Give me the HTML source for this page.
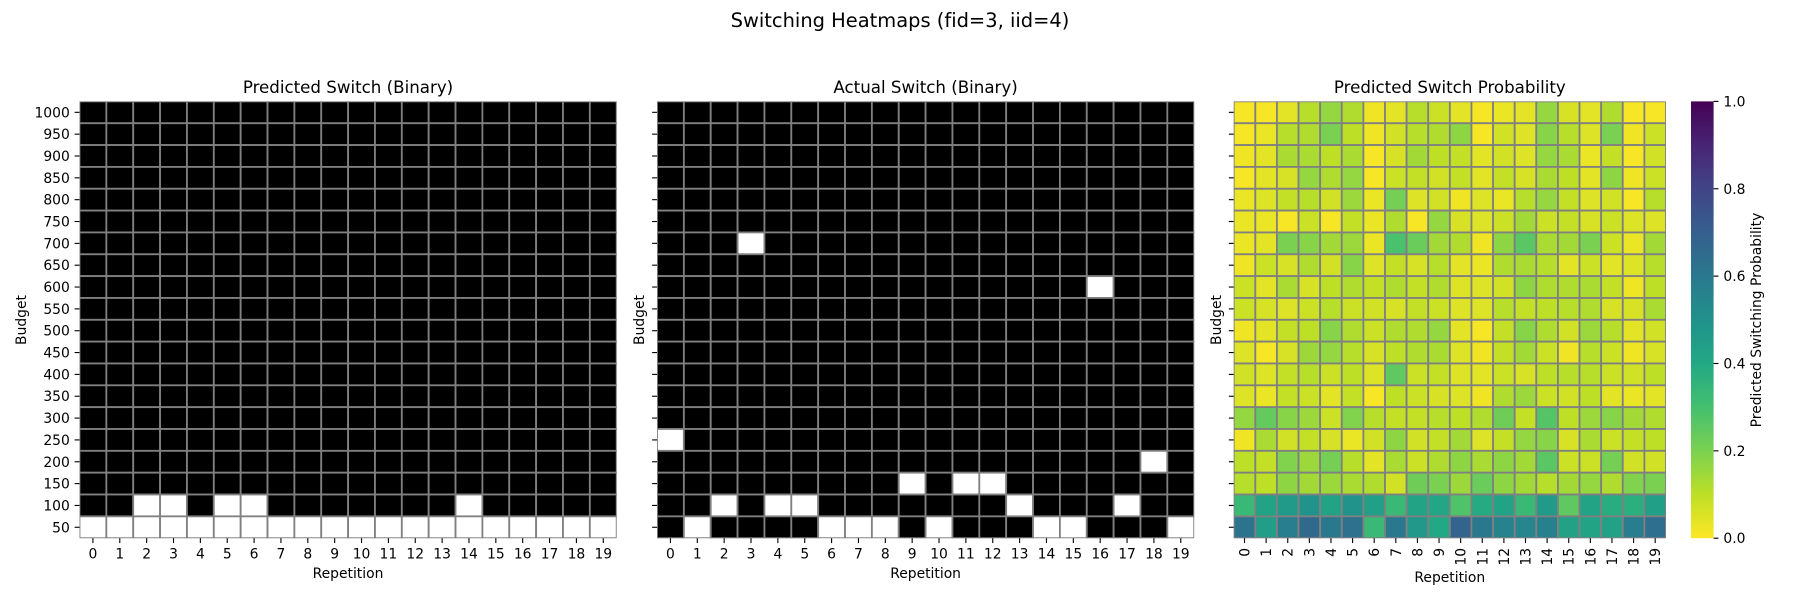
<!DOCTYPE html>
<html lang="en">
<head>
<meta charset="utf-8">
<title>Switching Heatmaps</title>
<style>
html,body{margin:0;padding:0;background:#fff;}
svg{display:block;}
text{font-family:"DejaVu Sans","Liberation Sans",sans-serif;fill:#000;font-variant-ligatures:none;}
</style>
</head>
<body>
<svg id="chart" xmlns="http://www.w3.org/2000/svg" width="1800" height="600" viewBox="0 0 1800 600">
  <defs>
    <linearGradient id="cbar-gradient" x1="0" y1="1" x2="0" y2="0">
      <stop offset="0" stop-color="#fde725"/>
      <stop offset="0.1" stop-color="#bddf26"/>
      <stop offset="0.2" stop-color="#7ad151"/>
      <stop offset="0.3" stop-color="#44bf70"/>
      <stop offset="0.4" stop-color="#22a884"/>
      <stop offset="0.5" stop-color="#21918c"/>
      <stop offset="0.6" stop-color="#2a788e"/>
      <stop offset="0.7" stop-color="#355f8d"/>
      <stop offset="0.8" stop-color="#414487"/>
      <stop offset="0.9" stop-color="#482475"/>
      <stop offset="1" stop-color="#440154"/>
    </linearGradient>
    <clipPath id="clip-a"><rect x="79.5" y="101.4" width="537.2" height="436.8"/></clipPath>
    <clipPath id="clip-b"><rect x="657" y="101.4" width="537.2" height="436.8"/></clipPath>
    <clipPath id="clip-c"><rect x="1233.7" y="101.4" width="432.3" height="436.8"/></clipPath>
  </defs>
  <text x="900" y="27" text-anchor="middle" font-size="19.44">Switching Heatmaps (fid=3, iid=4)</text>
  <text x="348" y="93" text-anchor="middle" font-size="16.67">Predicted Switch (Binary)</text>
  <text x="925.6" y="93" text-anchor="middle" font-size="16.67">Actual Switch (Binary)</text>
  <text x="1449.8" y="93" text-anchor="middle" font-size="16.67">Predicted Switch Probability</text>
  <text x="348" y="578" text-anchor="middle" font-size="13.89">Repetition</text>
  <text x="925.6" y="578" text-anchor="middle" font-size="13.89">Repetition</text>
  <text x="1449.8" y="582" text-anchor="middle" font-size="13.89">Repetition</text>
  <text transform="translate(26,320) rotate(-90)" text-anchor="middle" font-size="13.89">Budget</text>
  <text transform="translate(644,320) rotate(-90)" text-anchor="middle" font-size="13.89">Budget</text>
  <text transform="translate(1221,320) rotate(-90)" text-anchor="middle" font-size="13.89">Budget</text>
  <text transform="translate(1761,320) rotate(-90)" text-anchor="middle" font-size="13.89">Predicted Switching Probability</text>
  <rect x="1691" y="101.4" width="22.6" height="436.8" fill="url(#cbar-gradient)"/>
  <g id="plots"></g>
</svg>
<script>
const budgets = [1000,950,900,850,800,750,700,650,600,550,500,450,400,350,300,250,200,150,100,50];
const repetitions = [0,1,2,3,4,5,6,7,8,9,10,11,12,13,14,15,16,17,18,19];
const colorbarTicks = [0,0.2,0.4,0.6,0.8,1];

const predictedSwitch = [
[0,0,0,0,0,0,0,0,0,0,0,0,0,0,0,0,0,0,0,0],
[0,0,0,0,0,0,0,0,0,0,0,0,0,0,0,0,0,0,0,0],
[0,0,0,0,0,0,0,0,0,0,0,0,0,0,0,0,0,0,0,0],
[0,0,0,0,0,0,0,0,0,0,0,0,0,0,0,0,0,0,0,0],
[0,0,0,0,0,0,0,0,0,0,0,0,0,0,0,0,0,0,0,0],
[0,0,0,0,0,0,0,0,0,0,0,0,0,0,0,0,0,0,0,0],
[0,0,0,0,0,0,0,0,0,0,0,0,0,0,0,0,0,0,0,0],
[0,0,0,0,0,0,0,0,0,0,0,0,0,0,0,0,0,0,0,0],
[0,0,0,0,0,0,0,0,0,0,0,0,0,0,0,0,0,0,0,0],
[0,0,0,0,0,0,0,0,0,0,0,0,0,0,0,0,0,0,0,0],
[0,0,0,0,0,0,0,0,0,0,0,0,0,0,0,0,0,0,0,0],
[0,0,0,0,0,0,0,0,0,0,0,0,0,0,0,0,0,0,0,0],
[0,0,0,0,0,0,0,0,0,0,0,0,0,0,0,0,0,0,0,0],
[0,0,0,0,0,0,0,0,0,0,0,0,0,0,0,0,0,0,0,0],
[0,0,0,0,0,0,0,0,0,0,0,0,0,0,0,0,0,0,0,0],
[0,0,0,0,0,0,0,0,0,0,0,0,0,0,0,0,0,0,0,0],
[0,0,0,0,0,0,0,0,0,0,0,0,0,0,0,0,0,0,0,0],
[0,0,0,0,0,0,0,0,0,0,0,0,0,0,0,0,0,0,0,0],
[0,0,1,1,0,1,1,0,0,0,0,0,0,0,1,0,0,0,0,0],
[1,1,1,1,1,1,1,1,1,1,1,1,1,1,1,1,1,1,1,1]
];

const actualSwitch = [
[0,0,0,0,0,0,0,0,0,0,0,0,0,0,0,0,0,0,0,0],
[0,0,0,0,0,0,0,0,0,0,0,0,0,0,0,0,0,0,0,0],
[0,0,0,0,0,0,0,0,0,0,0,0,0,0,0,0,0,0,0,0],
[0,0,0,0,0,0,0,0,0,0,0,0,0,0,0,0,0,0,0,0],
[0,0,0,0,0,0,0,0,0,0,0,0,0,0,0,0,0,0,0,0],
[0,0,0,0,0,0,0,0,0,0,0,0,0,0,0,0,0,0,0,0],
[0,0,0,1,0,0,0,0,0,0,0,0,0,0,0,0,0,0,0,0],
[0,0,0,0,0,0,0,0,0,0,0,0,0,0,0,0,0,0,0,0],
[0,0,0,0,0,0,0,0,0,0,0,0,0,0,0,0,1,0,0,0],
[0,0,0,0,0,0,0,0,0,0,0,0,0,0,0,0,0,0,0,0],
[0,0,0,0,0,0,0,0,0,0,0,0,0,0,0,0,0,0,0,0],
[0,0,0,0,0,0,0,0,0,0,0,0,0,0,0,0,0,0,0,0],
[0,0,0,0,0,0,0,0,0,0,0,0,0,0,0,0,0,0,0,0],
[0,0,0,0,0,0,0,0,0,0,0,0,0,0,0,0,0,0,0,0],
[0,0,0,0,0,0,0,0,0,0,0,0,0,0,0,0,0,0,0,0],
[1,0,0,0,0,0,0,0,0,0,0,0,0,0,0,0,0,0,0,0],
[0,0,0,0,0,0,0,0,0,0,0,0,0,0,0,0,0,0,1,0],
[0,0,0,0,0,0,0,0,0,1,0,1,1,0,0,0,0,0,0,0],
[0,0,1,0,1,1,0,0,0,0,0,0,0,1,0,0,0,1,0,0],
[0,1,0,0,0,0,1,1,1,0,1,0,0,0,1,1,0,0,0,1]
];

const switchProbability = [
[.01,.01,.04,.11,.16,.12,.02,.04,.11,.08,.04,.01,.03,.04,.16,.06,.04,.12,.01,.01],
[.01,.03,.11,.12,.20,.10,.02,.07,.11,.12,.17,.01,.07,.05,.18,.11,.05,.20,.02,.08],
[.02,.04,.13,.13,.10,.13,.01,.06,.14,.10,.09,.04,.07,.05,.16,.13,.03,.09,.01,.07],
[.01,.04,.06,.16,.12,.16,.01,.08,.09,.07,.09,.04,.09,.06,.13,.10,.04,.17,.02,.08],
[.03,.05,.09,.11,.07,.15,.03,.21,.05,.07,.02,.05,.03,.11,.16,.09,.05,.07,.01,.11],
[.03,.03,.01,.08,.01,.09,.03,.12,.01,.16,.06,.05,.08,.14,.08,.09,.06,.08,.05,.05],
[.03,.04,.20,.18,.14,.15,.03,.29,.23,.14,.12,.02,.17,.26,.13,.14,.20,.08,.03,.14],
[.02,.08,.06,.12,.07,.18,.05,.09,.06,.11,.04,.03,.12,.13,.11,.04,.08,.04,.05,.11],
[.08,.04,.13,.06,.10,.12,.09,.12,.09,.12,.05,.05,.07,.17,.12,.12,.13,.09,.02,.10],
[.08,.06,.05,.08,.11,.08,.07,.06,.09,.08,.05,.05,.11,.09,.10,.11,.12,.06,.06,.13],
[.02,.04,.09,.10,.18,.12,.08,.12,.12,.16,.04,.01,.09,.18,.12,.07,.15,.11,.04,.07],
[.05,.01,.06,.15,.16,.11,.06,.10,.12,.13,.05,.02,.09,.14,.08,.02,.11,.08,.02,.06],
[.07,.05,.09,.11,.08,.10,.05,.25,.08,.09,.05,.04,.08,.06,.10,.11,.11,.08,.07,.10],
[.05,.03,.09,.08,.04,.09,.01,.10,.08,.06,.05,.02,.12,.15,.08,.07,.10,.04,.03,.04],
[.16,.24,.18,.15,.08,.19,.11,.09,.09,.11,.10,.12,.22,.09,.27,.10,.15,.18,.14,.12],
[.02,.13,.07,.09,.06,.03,.07,.17,.07,.09,.14,.05,.09,.16,.18,.06,.13,.08,.09,.10],
[.10,.09,.19,.15,.21,.11,.04,.13,.08,.12,.17,.13,.17,.14,.26,.08,.08,.21,.07,.07],
[.11,.10,.17,.14,.15,.13,.12,.07,.22,.20,.15,.23,.17,.14,.11,.14,.16,.12,.19,.20],
[.33,.42,.46,.49,.42,.49,.44,.33,.42,.41,.28,.39,.42,.33,.46,.25,.42,.38,.37,.44],
[.62,.45,.58,.66,.60,.63,.33,.60,.47,.40,.68,.60,.56,.55,.57,.43,.42,.43,.58,.64]
];

const SVG_NS = 'http://www.w3.org/2000/svg';
const plots = document.getElementById('plots');
const top_ = 101.4, bottom_ = 538.2;
const viridisR = ['#fde725','#bddf26','#7ad151','#44bf70','#22a884','#21918c','#2a788e','#355f8d','#414487','#482475','#440154'];

function hexToRgb(h){ return [1,3,5].map(function(i){ return parseInt(h.substr(i,2),16); }); }
function probColor(v){
  const t = Math.max(0,Math.min(1,v))*10;
  const i = Math.min(9,Math.floor(t));
  const a = hexToRgb(viridisR[i]), b = hexToRgb(viridisR[i+1]), f = t-i;
  return 'rgb('+a.map(function(c,k){ return Math.round(c+(b[k]-c)*f); }).join(',')+')';
}
function binaryColor(v){ return v ? '#ffffff' : '#000000'; }
function makeScale(start,end,count){
  return function(i){ return start+(end-start)*i/count; };
}
function svgEl(tag,parent){
  const e = document.createElementNS(SVG_NS,tag);
  parent.appendChild(e);
  return e;
}

function drawPanel(left,right,clipId,matrix,colorFn,showYLabels,rotateXLabels){
  const xScale = makeScale(left,right,repetitions.length);
  const yScale = makeScale(top_,bottom_,budgets.length);
  const g = svgEl('g',plots);
  
  
  const cells = svgEl('g',g);
  cells.setAttribute('clip-path','url(#'+clipId+')');
  
  
  matrix.forEach(function(row,r){
    row.forEach(function(v,c){
      const cell = svgEl('rect',cells);
      cell.setAttribute('x',xScale(c));
      cell.setAttribute('y',yScale(r));
      cell.setAttribute('width',xScale(c+1)-xScale(c));
      cell.setAttribute('height',yScale(r+1)-yScale(r));
      cell.setAttribute('fill',colorFn(v));
      cell.setAttribute('stroke','#808080');
      cell.setAttribute('stroke-width','1.8');
      
      
    });
  });
  budgets.forEach(function(b,r){
    const y = yScale(r+0.5);
    const tick = svgEl('line',g);
    tick.setAttribute('x1',left-4.86);
    tick.setAttribute('x2',left);
    tick.setAttribute('y1',y);
    tick.setAttribute('y2',y);
    tick.setAttribute('stroke','#000');
    tick.setAttribute('stroke-width','1.11');
    
    
    if(showYLabels){
      const label = svgEl('text',g);
      label.setAttribute('x',left-9.7);
      label.setAttribute('y',y+5);
      label.setAttribute('text-anchor','end');
      label.setAttribute('font-size','13.89');
      label.textContent = b;
      
      
    }
  });
  repetitions.forEach(function(rep,c){
    const x = xScale(c+0.5);
    const tick = svgEl('line',g);
    tick.setAttribute('x1',x);
    tick.setAttribute('x2',x);
    tick.setAttribute('y1',bottom_);
    tick.setAttribute('y2',bottom_+4.86);
    tick.setAttribute('stroke','#000');
    tick.setAttribute('stroke-width','1.11');
    
    
    const label = svgEl('text',g);
    label.setAttribute('font-size','13.89');
    label.setAttribute('text-anchor', rotateXLabels ? 'end' : 'middle');
    if(rotateXLabels){
      label.setAttribute('transform','translate('+(x+5)+','+(bottom_+9.7)+') rotate(-90)');
    } else {
      label.setAttribute('x',x);
      label.setAttribute('y',bottom_+20.3);
    }
    label.textContent = rep;
    
    
  });
}

drawPanel(79.5,616.7,'clip-a',predictedSwitch,binaryColor,true,false);
drawPanel(657,1194.2,'clip-b',actualSwitch,binaryColor,false,false);
drawPanel(1233.7,1666,'clip-c',switchProbability,probColor,false,true);

const cbarScale = function(v){ return bottom_+(top_-bottom_)*v; };
colorbarTicks.forEach(function(v){
  const y = cbarScale(v);
  const tick = svgEl('line',plots);
  tick.setAttribute('x1',1713.6);
  tick.setAttribute('x2',1718.5);
  tick.setAttribute('y1',y);
  tick.setAttribute('y2',y);
  tick.setAttribute('stroke','#000');
  tick.setAttribute('stroke-width','1.11');
  
  
  const label = svgEl('text',plots);
  label.setAttribute('x',1723.4);
  label.setAttribute('y',y+5);
  label.setAttribute('font-size','13.89');
  label.textContent = v.toFixed(1);
  
  
});
</script>
</body>
</html>
